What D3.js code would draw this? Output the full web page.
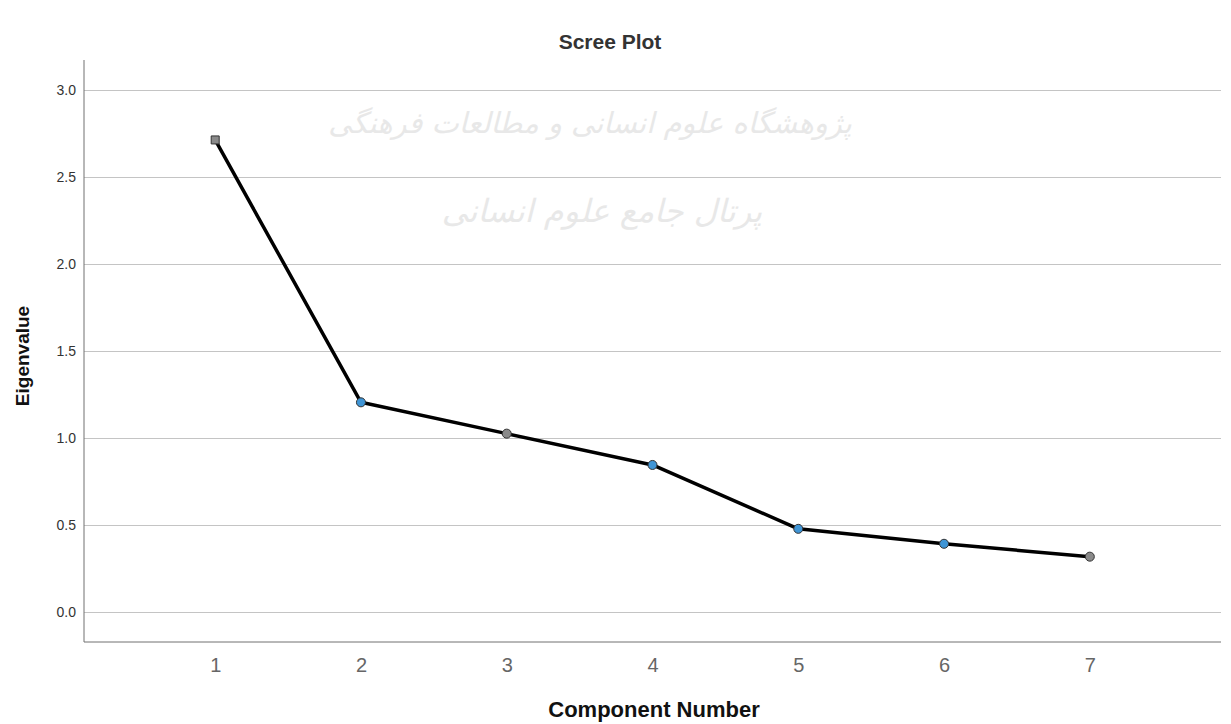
<!DOCTYPE html>
<html>
<head>
<meta charset="utf-8">
<script src="https://cdn.jsdelivr.net/npm/d3@7"></script>
<style>
  body { margin: 0; background: #fff; }
  svg { display: block; font-family: Arial, "Liberation Sans", sans-serif; }
</style>
</head>
<body>
<div id="chart"><svg width="1231" height="724"></svg></div>
<script>
// data
const components = [1, 2, 3, 4, 5, 6, 7];
const eigenvalues = [2.713, 1.205, 1.025, 0.845, 0.478, 0.392, 0.318];
const markerFill = ["#8a8a8a", "#3f95d6", "#8a8a8a", "#3f95d6", "#3f95d6", "#3f95d6", "#8a8a8a"];
const markerShape = ["square", "circle", "circle", "circle", "circle", "circle", "circle"];
const yTicks = [0.0, 0.5, 1.0, 1.5, 2.0, 2.5, 3.0];
const watermark = ["پژوهشگاه علوم انسانی و مطالعات فرهنگی", "پرتال جامع علوم انسانی"];

const svg = d3.select("#chart").select("svg");
const margin = {top: 60, left: 84, right: 10, bottom: 82};
const width = 1231, height = 724;

const xScale = d3.scaleLinear()
    .domain([0.1, 7.9])
    .range([margin.left, width - margin.right]);

const yScale = d3.scaleLinear()
    .domain([0, 3])
    .range([612, 90]);

// faint watermark behind the plot
svg.append("g")
    .selectAll("text")
    .data(watermark)
    .enter()
    .append("text")
    .attr("x", (d, i) => i === 0 ? 590 : 602)
    .attr("y", (d, i) => i === 0 ? 133 : 222)
    .attr("text-anchor", "middle")
    .attr("direction", "rtl")
    .attr("font-family", "DejaVu Sans")
    .attr("font-size", (d, i) => i === 0 ? 29 : 32)
    .attr("font-style", "italic")
    .attr("fill", "#e8e8e8")
    .text(d => d);

// grid
svg.append("g")
    .attr("transform", `translate(${margin.left},0)`)
    .call(d3.axisLeft(yScale)
        .tickValues(yTicks)
        .tickSize(-(width - margin.right - margin.left))
        .tickFormat(""))
    .call(g => g.select(".domain").remove())
    .call(g => g.selectAll("line").attr("stroke", "#c4c4c4"));

// y axis
svg.append("g")
    .attr("class", "yAxis")
    .attr("transform", `translate(${margin.left},0)`)
    .call(d3.axisLeft(yScale).tickValues(yTicks).tickSize(0).tickPadding(8).tickFormat(d3.format(".1f")))
    .call(g => g.select(".domain").attr("d", `M0,${margin.top}V642`).attr("stroke", "#707070"))
    .call(g => g.selectAll("text").attr("font-size", 14).attr("fill", "#333"));

// x axis
svg.append("g")
    .attr("class", "xAxis")
    .attr("transform", `translate(0,642)`)
    .call(d3.axisBottom(xScale).tickValues(components).tickSize(0).tickPadding(16).tickFormat(d3.format("d")))
    .call(g => g.select(".domain").attr("d", `M${margin.left},0H${width - margin.right}`).attr("stroke", "#707070"))
    .call(g => g.selectAll("text").attr("font-size", 20).attr("fill", "#666"));

// line
const pts = components.map((c, i) => ({c: c, v: eigenvalues[i], fill: markerFill[i], shape: markerShape[i]}));

svg.append("path")
    .datum(pts)
    .attr("fill", "none")
    .attr("stroke", "#000")
    .attr("stroke-width", 3.5)
    .attr("stroke-linejoin", "round")
    .attr("d", d3.line().x(d => xScale(d.c)).y(d => yScale(d.v)));

svg.append("g")
    .selectAll("path")
    .data(pts)
    .enter()
    .append("path")
    .attr("transform", d => `translate(${xScale(d.c)},${yScale(d.v)})`)
    .attr("d", d => d3.symbol(d.shape === "square" ? d3.symbolSquare : d3.symbolCircle, 64)())
    .attr("fill", d => d.fill)
    .attr("stroke", "#333")
    .attr("stroke-width", 1);

// titles
svg.append("text")
    .attr("x", 610)
    .attr("y", 49)
    .attr("text-anchor", "middle")
    .attr("font-size", 21)
    .attr("font-weight", "bold")
    .attr("fill", "#333")
    .text("Scree Plot");

svg.append("text")
    .attr("transform", "translate(29,356) rotate(-90)")
    .attr("text-anchor", "middle")
    .attr("font-size", 19)
    .attr("font-weight", "bold")
    .attr("fill", "#111")
    .text("Eigenvalue");

svg.append("text")
    .attr("x", 654)
    .attr("y", 717)
    .attr("text-anchor", "middle")
    .attr("font-size", 22)
    .attr("font-weight", "bold")
    .attr("fill", "#111")
    .text("Component Number");
</script>
</body>
</html>
